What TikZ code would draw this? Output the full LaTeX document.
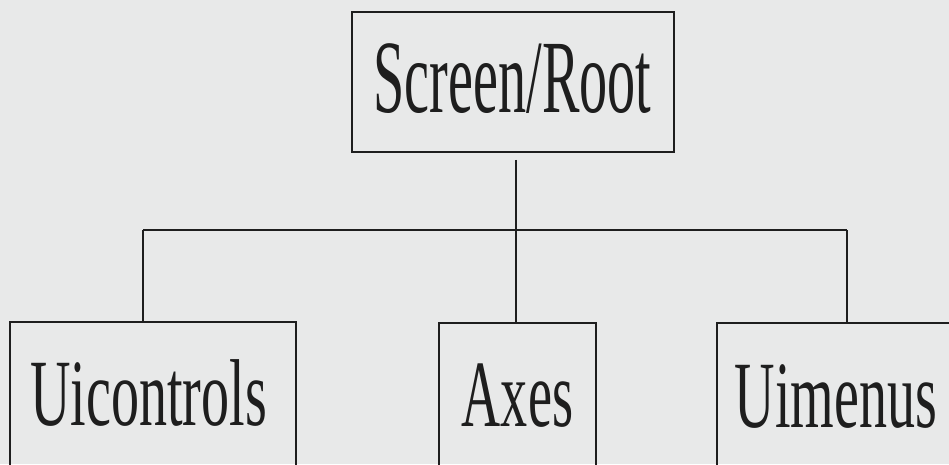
\documentclass[tikz,border=0pt]{standalone}
\usepackage{fontspec}
\setmainfont{Liberation Serif}
\usepackage{graphicx}
\definecolor{bg}{HTML}{E8E9E9}
\definecolor{ink}{HTML}{1E1E1E}
\begin{document}
\begin{tikzpicture}[x=1pt,y=-1pt,
  box/.style={draw=ink,line width=1.8pt,rectangle,inner sep=0pt},
  conn/.style={draw=ink,line width=1.5pt},
  lbl/.style={text=ink,inner sep=0pt,anchor=base,font=\fontsize{95}{100}\selectfont}]
\fill[bg] (0,0) rectangle (949,464);
\useasboundingbox (0,0) rectangle (949,464);
\clip (0,0) rectangle (949,464);
% boxes
\node[box,minimum width=322pt,minimum height=140pt] (root) at (513,82) {};
\node[box,minimum width=286pt,minimum height=160pt] (ui) at (153,402) {};
\node[box,minimum width=157pt,minimum height=160pt] (ax) at (517.5,403) {};
\node[box,minimum width=280pt,minimum height=160pt] (um) at (857,403) {};
% labels
\node[lbl,font=\fontsize{104}{110}\selectfont] (troot) at (512.5,112) {\scalebox{0.54}[1]{Screen/Root}};
\node[lbl] (tui) at (148.5,425) {\scalebox{0.59}[1]{Uicontrols}};
\node[lbl] (tax) at (517.5,426) {\scalebox{0.57}[1]{Axes}};
\node[lbl] (tum) at (836,427) {\scalebox{0.59}[1]{Uimenus}};
% connectors
\coordinate (jm) at (516,230);
\coordinate (jl) at (143,230);
\coordinate (jr) at (847,230);
\draw[conn,shorten <=7pt] (jm |- root.south) -- (jm);
\draw[conn] (jl) -- (jr);
\draw[conn] (jl) -- (jl |- ui.north);
\draw[conn] (jm) -- (jm |- ax.north);
\draw[conn] (jr) -- (jr |- um.north);
\end{tikzpicture}
\end{document}
